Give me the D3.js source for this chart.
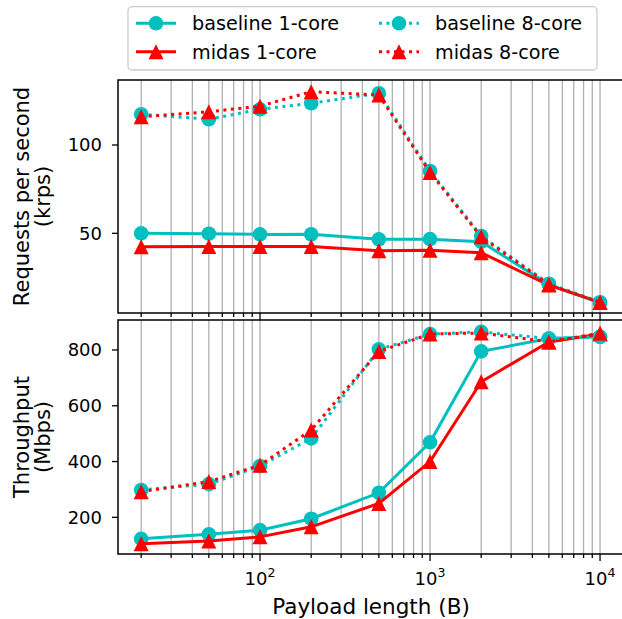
<!DOCTYPE html>
<html>
<head>
<meta charset="utf-8">
<script src="https://cdn.jsdelivr.net/npm/d3@7"></script>
<style>
  body { margin: 0; background: #fff; }
  text { font-family: "DejaVu Sans", sans-serif; fill: #000; }
</style>
</head>
<body>
<svg width="622" height="619"></svg>
<script>
var payload = [20, 50, 100, 200, 500, 1000, 2000, 5000, 10000];

// requests per second (krps)
var rpsBase1 = [50, 49.8, 49.4, 49.5, 46.6, 46.7, 45.2, 21, 10.7];
var rpsMidas1 = [42.4, 42.5, 42.5, 42.5, 40.2, 40.4, 39, 20.7, 10.9];
var rpsBase8 = [117.4, 114.6, 120.2, 123.6, 129.3, 85.3, 48.5, 21.5, 11];
var rpsMidas8 = [116, 118.8, 122, 130.2, 128.3, 84.5, 48, 21, 11];

// throughput (Mbps)
var tpBase1 = [123, 139, 154, 195, 288, 469, 795, 841, 847];
var tpMidas1 = [105, 115, 130, 166, 250, 400, 686, 829, 857];
var tpBase8 = [298, 319, 384, 483, 802, 857, 865, 841, 847];
var tpMidas8 = [292, 328, 387, 513, 795, 857, 861, 829, 860];

var seriesNames = ["baseline 1-core", "midas 1-core", "baseline 8-core", "midas 8-core"];
var rpsTicks = [50, 100];
var tpTicks = [200, 400, 600, 800];

var svg = d3.select("svg");
var cyan = "#00bfbf", red = "#ff0000";
var styles = [
  {color: cyan, marker: "circle", dash: null},
  {color: red, marker: "triangle", dash: null},
  {color: cyan, marker: "circle", dash: "3,4.5"},
  {color: red, marker: "triangle", dash: "3,4.5"}
];

var left = 118, right = 623;
var x = d3.scaleLog()
    .domain([Math.pow(10, 1.1647), Math.pow(10, 4.135)])
    .range([left, right]);

var yTop = d3.scaleLinear().domain([4.9, 136.8]).range([313, 80]);
var yBot = d3.scaleLinear().domain([68.5, 907.5]).range([554, 320]);

// all major + minor grid positions
var gridVals = [];
[10, 100, 1000, 10000].forEach(function(d) {
  for (var k = 1; k < 10; k++) gridVals.push(d * k);
});
gridVals = gridVals.filter(function(v) { return v >= x.domain()[0] && v <= x.domain()[1]; });
var majors = [100, 1000, 10000];

function panel(y, ticks, data, labelLines, showXLabels) {
  var g = svg.append("g");
  var y0 = y.range()[0], y1 = y.range()[1];

  g.selectAll(".grid")
    .data(gridVals)
    .enter().append("line")
      .attr("x1", function(d) { return x(d); })
      .attr("x2", function(d) { return x(d); })
      .attr("y1", y0).attr("y2", y1)
      .attr("stroke", "#b0b0b0")
      .attr("stroke-width", 1.3);

  var line = d3.line()
      .x(function(d) { return x(d[0]); })
      .y(function(d) { return y(d[1]); });

  data.forEach(function(vals, i) {
    var st = styles[i];
    var pts = payload.map(function(p, j) { return [p, vals[j]]; });
    var sg = g.append("g");
    sg.append("path")
      .attr("d", line(pts))
      .attr("fill", "none")
      .attr("stroke", st.color)
      .attr("stroke-width", 3)
      .attr("stroke-dasharray", st.dash);
    drawMarkers(sg, pts.map(function(p) { return [x(p[0]), y(p[1])]; }), st);
  });

  // spines
  g.append("path")
    .attr("d", "M" + right + "," + y1 + "H" + left + "V" + y0 + "H" + right)
    .attr("fill", "none")
    .attr("stroke", "#000")
    .attr("stroke-width", 1.5);

  // x ticks
  g.selectAll(".xt")
    .data(gridVals)
    .enter().append("line")
      .attr("x1", function(d) { return x(d); })
      .attr("x2", function(d) { return x(d); })
      .attr("y1", y0)
      .attr("y2", function(d) { return y0 + (majors.indexOf(d) >= 0 ? 7 : 4); })
      .attr("stroke", "#000")
      .attr("stroke-width", 1.3);

  if (showXLabels) {
    majors.forEach(function(m) {
      var t = g.append("text")
        .attr("x", x(m))
        .attr("y", y0 + 31)
        .attr("text-anchor", "middle")
        .style("font-size", "18px");
      t.append("tspan").text("10");
      t.append("tspan").text(Math.round(Math.log10(m)))
        .attr("dy", -8).style("font-size", "12.5px");
    });
  }

  // y ticks
  ticks.forEach(function(v) {
    g.append("line")
      .attr("x1", left - 6).attr("x2", left)
      .attr("y1", y(v)).attr("y2", y(v))
      .attr("stroke", "#000").attr("stroke-width", 1.3);
    g.append("text")
      .attr("x", left - 16)
      .attr("y", y(v))
      .attr("dy", "0.36em")
      .attr("text-anchor", "end")
      .style("font-size", "18px")
      .text(v);
  });

  var cy = (y0 + y1) / 2;
  labelLines.forEach(function(s, i) {
    g.append("text")
      .attr("transform", "translate(" + (29 + i * 21) + "," + cy + ") rotate(-90)")
      .attr("text-anchor", "middle")
      .style("font-size", "21px")
      .text(s);
  });
}

function drawMarkers(sel, pts, st) {
  if (st.marker === "circle") {
    sel.selectAll(".m").data(pts).enter().append("circle")
      .attr("cx", function(d) { return d[0]; })
      .attr("cy", function(d) { return d[1]; })
      .attr("r", 7.3)
      .attr("fill", st.color);
  } else {
    var s = 7.5;
    sel.selectAll(".m").data(pts).enter().append("path")
      .attr("d", function(d) {
        return "M" + d[0] + "," + (d[1] - s) + "L" + (d[0] - s) + "," + (d[1] + s) +
               "L" + (d[0] + s) + "," + (d[1] + s) + "Z";
      })
      .attr("fill", st.color);
  }
}

panel(yTop, rpsTicks, [rpsBase1, rpsMidas1, rpsBase8, rpsMidas8], ["Requests per second", "(krps)"], false);
panel(yBot, tpTicks, [tpBase1, tpMidas1, tpBase8, tpMidas8], ["Throughput", "(Mbps)"], true);

svg.append("text")
  .attr("x", 371)
  .attr("y", 614)
  .attr("text-anchor", "middle")
  .style("font-size", "21.5px")
  .text("Payload length (B)");

// legend
var lg = svg.append("g");
lg.append("rect")
  .attr("x", 128).attr("y", 6.7)
  .attr("width", 469).attr("height", 63.3)
  .attr("rx", 4)
  .attr("fill", "#fff").attr("fill-opacity", 0.8)
  .attr("stroke", "#cccccc").attr("stroke-width", 1.3);

var legPos = [[136, 23.3], [136, 51.7], [379, 23.3], [379, 51.7]];
seriesNames.forEach(function(name, i) {
  var p = legPos[i], st = styles[i];
  var hg = lg.append("g");
  hg.append("line")
    .attr("x1", p[0]).attr("x2", p[0] + 40)
    .attr("y1", p[1]).attr("y2", p[1])
    .attr("stroke", st.color).attr("stroke-width", 3)
    .attr("stroke-dasharray", st.dash);
  drawMarkers(hg, [[p[0] + 20, p[1]]], st);
  lg.append("text")
    .attr("x", p[0] + 56)
    .attr("y", p[1])
    .attr("dy", "0.36em")
    .style("font-size", "19.2px")
    .text(name);
});
</script>
</body>
</html>
